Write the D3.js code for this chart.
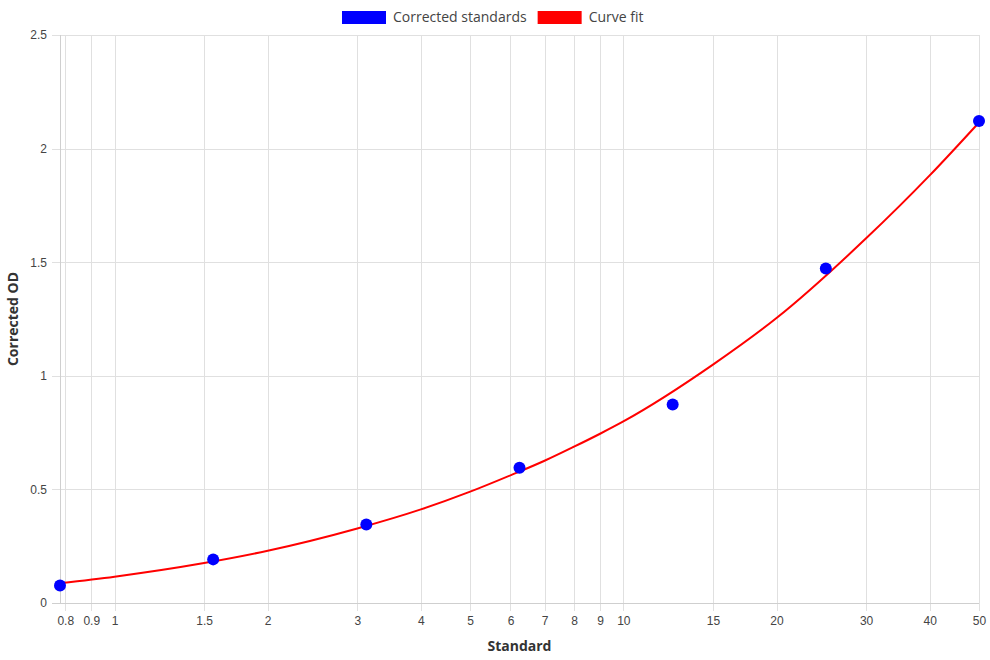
<!DOCTYPE html>
<html>
<head>
<meta charset="utf-8">
<script src="https://cdn.jsdelivr.net/npm/d3@7"></script>
<style>
  html, body { margin: 0; padding: 0; background: #fff; }
  #chart { width: 990px; height: 660px; }
  .tick text { font-family: "Liberation Sans", Arial, sans-serif; font-size: 12px; fill: #444; }
</style>
</head>
<body>
<div id="chart"></div>
<script>
// standards (doubling dilution) and measured corrected OD
var standards = [0.78125, 1.5625, 3.125, 6.25, 12.5, 25, 50];
var correctedOD = [0.077, 0.192, 0.346, 0.595, 0.874, 1.472, 2.121];

// fitted curve
var fitX = [0.78125, 1, 1.5, 2, 3, 4, 5, 6, 7, 8, 9, 10, 15, 20, 30, 40, 50];
var fitY = [0.087, 0.116, 0.176, 0.230, 0.328, 0.412, 0.490, 0.562, 0.626, 0.688, 0.745, 0.799, 1.049, 1.254, 1.605, 1.882, 2.115];

var xTicks = [0.8, 0.9, 1, 1.5, 2, 3, 4, 5, 6, 7, 8, 9, 10, 15, 20, 30, 40, 50];
var yTicks = [0, 0.5, 1, 1.5, 2, 2.5];

var legendItems = [
  { label: 'Corrected standards', color: '#0000ff' },
  { label: 'Curve fit', color: '#ff0000' }
];

(function() {
  var WIDTH = 990, HEIGHT = 660;
  var mLeft = 60, mRight = 979, mTop = 35, mBottom = 603;
  var grid = '#e0e0e0';
  var titleFont = '"Open Sans", sans-serif';

  var svg = d3.select('#chart').append('svg')
    .attr('width', WIDTH)
    .attr('height', HEIGHT);

  var x = d3.scaleLog().domain([0.78125, 50]).range([mLeft, mRight]);
  var y = d3.scaleLinear().domain([0, 2.5]).range([mBottom, mTop]);

  // grid
  svg.append('g').selectAll('line')
    .data([0.78125].concat(xTicks))
    .enter().append('line')
    .attr('x1', function(d) { return Math.round(x(d)) + 0.5; })
    .attr('x2', function(d) { return Math.round(x(d)) + 0.5; })
    .attr('y1', mTop)
    .attr('y2', function(d, i) { return i === 0 ? mBottom : mBottom + 8; })
    .attr('stroke', grid);

  svg.append('g').selectAll('line')
    .data(yTicks)
    .enter().append('line')
    .attr('x1', mLeft - 8)
    .attr('x2', mRight)
    .attr('y1', function(d) { return Math.round(y(d)) + 0.5; })
    .attr('y2', function(d) { return Math.round(y(d)) + 0.5; })
    .attr('stroke', grid);

  var xAxis = svg.append('g')
    .attr('transform', 'translate(0,' + mBottom + ')')
    .call(d3.axisBottom(x).tickValues(xTicks).tickFormat(d3.format('')).tickSize(0).tickPadding(13));
  xAxis.select('.domain').remove();

  var yAxis = svg.append('g')
    .attr('transform', 'translate(' + mLeft + ',0)')
    .call(d3.axisLeft(y).tickValues(yTicks).tickFormat(d3.format('')).tickSize(0).tickPadding(13));
  yAxis.select('.domain').remove();

  svg.append('line')
    .attr('x1', mLeft - 8).attr('x2', mRight)
    .attr('y1', mBottom + 0.5).attr('y2', mBottom + 0.5)
    .attr('stroke', '#cfcfcf');
  svg.append('line')
    .attr('x1', mLeft + 0.5).attr('x2', mLeft + 0.5)
    .attr('y1', mTop).attr('y2', mBottom + 0.5)
    .attr('stroke', '#cfcfcf');

  // axis titles
  svg.append('text')
    .attr('x', (mLeft + mRight) / 2)
    .attr('y', 651)
    .attr('text-anchor', 'middle')
    .style('font-family', titleFont)
    .style('font-size', '14px')
    .style('font-weight', 'bold')
    .style('fill', '#333')
    .text('Standard');

  svg.append('text')
    .attr('transform', 'translate(18,' + ((mTop + mBottom) / 2) + ') rotate(-90)')
    .attr('text-anchor', 'middle')
    .style('font-family', titleFont)
    .style('font-size', '14px')
    .style('font-weight', 'bold')
    .style('fill', '#333')
    .text('Corrected OD');

  // curve fit
  var fit = fitX.map(function(d, i) { return [d, fitY[i]]; });
  svg.append('path')
    .datum(fit)
    .attr('fill', 'none')
    .attr('stroke', '#ff0000')
    .attr('stroke-width', 2)
    .attr('d', d3.line()
      .x(function(d) { return x(d[0]); })
      .y(function(d) { return y(d[1]); })
      .curve(d3.curveMonotoneX));

  // standards
  svg.append('g').selectAll('circle')
    .data(standards)
    .enter().append('circle')
    .attr('cx', function(d) { return x(d); })
    .attr('cy', function(d, i) { return y(correctedOD[i]); })
    .attr('r', 6)
    .attr('fill', '#0000ff');

  // legend
  var legend = svg.append('g').attr('transform', 'translate(342,11)');
  var lx = 0;
  legendItems.forEach(function(item) {
    var g = legend.append('g').attr('transform', 'translate(' + lx + ',0)');
    g.append('rect')
      .attr('width', 44).attr('height', 13)
      .attr('fill', item.color);
    var t = g.append('text')
      .attr('x', 51).attr('y', 11)
      .style('font-family', titleFont)
      .style('font-size', '14px')
      .style('fill', '#444')
      .text(item.label);
    lx += 51 + t.node().getComputedTextLength() + 11;
  });
})();
</script>
</body>
</html>
